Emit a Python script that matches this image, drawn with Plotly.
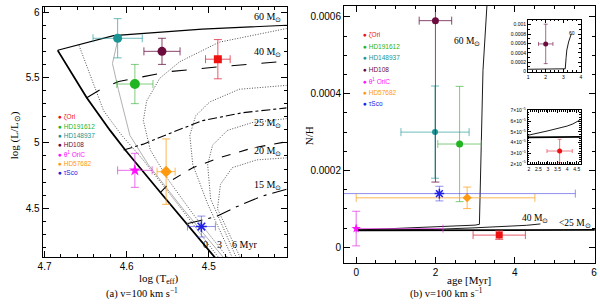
import plotly.graph_objects as go

W, H = 600, 304

# ---------------- stars ----------------
stars = ["ζOri", "HD191612", "HD148937", "HD108", "θ<sup>1</sup> OriC", "HD57682", "τSco"]
star_colors = ["#ee1111", "#22b522", "#1b9494", "#6b0b3e", "#ff10ff", "#ff9a10", "#2020e8"]
err_colors = ["rgba(225,50,70,0.8)", "rgba(60,175,60,0.65)", "rgba(30,150,150,0.65)",
              "rgba(110,25,75,0.8)", "rgba(225,60,225,0.75)", "rgba(255,160,30,0.75)",
              "rgba(70,70,230,0.6)"]
symbols = ["square", "circle", "circle", "circle", "star", "diamond", "asterisk-open"]

# panel (a): HRD
logT = [4.489, 4.590, 4.611, 4.557, 4.590, 4.552, 4.509]
logT_err = [0.015, 0.022, 0.030, 0.022, 0.021, 0.011, 0.017]
logL = [5.64, 5.45, 5.80, 5.70, 4.79, 4.78, 4.36]
logL_err = [0.15, 0.15, 0.15, 0.10, 0.13, 0.25, 0.08]

# panel (b): N/H vs age
age = [3.61, 2.61, 1.99, 2.00, 0.00, 2.80, 2.10]
age_err_plus = [0.66, 0.55, 0.86, 0.41, 2.19, 1.71, 3.43]
age_err_minus = [0.66, 0.55, 0.86, 0.41, 0.00, 2.80, 3.43]
nh = [3.2e-5, 2.69e-4, 3.0e-4, 5.9e-4, 4.9e-5, 1.29e-4, 1.40e-4]
nh_err = [1.1e-5, 1.5e-4, 1.2e-4, 4.2e-4, 4.5e-5, 2.8e-5, 1.9e-5]

# ---------------- tracks (panel a) ----------------
zams_T = [4.6840, 4.6486, 4.6202, 4.6017, 4.5556, 4.4930, 4.4882]
zams_L = [5.7076, 5.3448, 5.0952, 4.9453, 4.5952, 4.1282, 4.0907]

trk_masses = ["60", "40", "25", "20", "15"]
trk_T = [
    [4.684, 4.658, 4.616, 4.508, 4.405],
    [4.6486, 4.6318, 4.6097, 4.5475, 4.4874, 4.4051],
    [4.6037, 4.5797, 4.5484, 4.5075, 4.4593, 4.4052],
    [4.5588, 4.5436, 4.5195, 4.4874, 4.4471, 4.4052],
    [4.5255, 4.4915, 4.4674, 4.4351, 4.4052],
]
trk_L = [
    [5.708, 5.750, 5.820, 5.870, 5.900],
    [5.345, 5.408, 5.470, 5.545, 5.582, 5.625],
    [4.9453, 4.9903, 5.0705, 5.1702, 5.2301, 5.2676],
    [4.6207, 4.7197, 4.8103, 4.8853, 4.9603, 5.009],
    [4.3831, 4.4355, 4.5082, 4.5929, 4.6454],
]
trk_label_L = [5.957, 5.695, 5.150, 4.933, 4.675]

# isochrones (1..6 Myr)
iso_T = [
    [4.658, 4.642, 4.628, 4.606, 4.580, 4.538, 4.486],
    [4.6110, 4.6173, 4.6101, 4.6022, 4.5961, 4.5736, 4.5315, 4.4798],
    [4.4052, 4.4874, 4.5355, 4.5596, 4.5757, 4.5797, 4.5712, 4.5496, 4.5195, 4.4750],
    [4.4052, 4.4629, 4.4990, 4.5159, 4.5231, 4.5195, 4.5014, 4.4702],
    [4.4052, 4.4473, 4.4774, 4.4954, 4.5014, 4.4978, 4.4653],
    [4.4052, 4.4413, 4.4714, 4.4858, 4.4894, 4.4605],
]
iso_L = [
    [5.745, 5.470, 5.245, 5.058, 4.870, 4.533, 4.106],
    [5.7826, 5.6072, 5.4078, 5.2076, 5.0577, 4.8328, 4.4955, 4.1057],
    [5.8748, 5.7699, 5.6200, 5.4948, 5.3201, 5.1702, 4.9453, 4.7204, 4.4580, 4.1057],
    [5.4400, 5.4100, 5.3126, 5.2076, 5.0577, 4.8328, 4.5330, 4.1057],
    [5.1852, 5.1552, 5.0952, 4.9828, 4.8328, 4.5705, 4.1057],
    [4.8853, 4.8703, 4.8103, 4.6829, 4.4955, 4.1057],
]

# ---------------- tracks (panel b) ----------------
age60 = [0.0, 1.0, 2.0, 3.0, 3.11, 3.16, 3.20, 3.30, 3.45]
nh60 = [4.5e-5, 4.9e-5, 5.3e-5, 5.8e-5, 6.0e-5, 3.0e-4, 4.6e-4, 6.3e-4, 8.0e-4]
age40 = [0.0, 2.0, 3.0, 3.5, 4.0, 4.3, 4.65]
nh40 = [4.5e-5, 4.7e-5, 5.1e-5, 5.3e-5, 5.55e-5, 5.75e-5, 6.1e-5]
age25 = [0.0, 6.5]
nh25 = [4.45e-5, 4.55e-5]

fig = go.Figure()

# ----- panel a lines -----
for T, L in zip(iso_T, iso_L):
    fig.add_trace(go.Scatter(x=T, y=L, mode="lines", xaxis="x", yaxis="y",
                             line=dict(color="#222", width=0.8, dash="1px,1.6px"), showlegend=False))
# the 2 Myr isochrone is drawn as a grey solid line
fig.data[1].line.update(color="#b0b0b0", width=1.0, dash="solid")

trk_dash = ["solid", "longdash", "dashdot", "dash", "longdashdot"]
for T, L, d in zip(trk_T, trk_L, trk_dash):
    fig.add_trace(go.Scatter(x=T, y=L, mode="lines", xaxis="x", yaxis="y",
                             line=dict(color="black", width=1.1, dash=d), showlegend=False))
fig.add_trace(go.Scatter(x=zams_T, y=zams_L, mode="lines", xaxis="x", yaxis="y",
                         line=dict(color="black", width=1.8), showlegend=False))

sizes_a = [8, 10, 9, 9, 9, 9, 9]
sizes_b = [7, 7, 6, 7, 7, 7, 8]
for i in range(len(stars)):
    fig.add_trace(go.Scatter(
        x=[logT[i]], y=[logL[i]], mode="markers", xaxis="x", yaxis="y", showlegend=False,
        marker=dict(symbol=symbols[i], size=sizes_a[i], color=star_colors[i],
                    line=dict(color=star_colors[i], width=1.5 if symbols[i].endswith("open") else 0)),
        error_x=dict(type="data", array=[logT_err[i]], color=err_colors[i], thickness=1, width=4),
        error_y=dict(type="data", array=[logL_err[i]], color=err_colors[i], thickness=1, width=4)))

# ----- panel b lines -----
for xa, ya in (("x2", "y2"), ("x4", "y4")):
    fig.add_trace(go.Scatter(x=age25, y=nh25, mode="lines", xaxis=xa, yaxis=ya,
                             line=dict(color="black", width=1.8), showlegend=False))
    fig.add_trace(go.Scatter(x=age40, y=nh40, mode="lines", xaxis=xa, yaxis=ya,
                             line=dict(color="black", width=0.9), showlegend=False))
for xa, ya in (("x2", "y2"), ("x3", "y3")):
    fig.add_trace(go.Scatter(x=age60, y=nh60, mode="lines", xaxis=xa, yaxis=ya,
                             line=dict(color="black", width=0.9), showlegend=False))

for i in range(len(stars)):
    fig.add_trace(go.Scatter(
        x=[age[i]], y=[nh[i]], mode="markers", xaxis="x2", yaxis="y2", showlegend=False,
        marker=dict(symbol=symbols[i], size=sizes_b[i], color=star_colors[i],
                    line=dict(color=star_colors[i], width=1.5 if symbols[i].endswith("open") else 0)),
        error_x=dict(type="data", symmetric=False, array=[age_err_plus[i]],
                     arrayminus=[age_err_minus[i]], color=err_colors[i], thickness=1, width=4),
        error_y=dict(type="data", array=[nh_err[i]], color=err_colors[i], thickness=1, width=4)))

# insets: HD108 (top) and zeta Ori (bottom)
for i, xa, ya in ((3, "x3", "y3"), (0, "x4", "y4")):
    fig.add_trace(go.Scatter(
        x=[age[i]], y=[nh[i]], mode="markers", xaxis=xa, yaxis=ya, showlegend=False,
        marker=dict(symbol="circle", size=5, color=star_colors[i]),
        error_x=dict(type="data", array=[age_err_plus[i]], color=err_colors[i], thickness=0.8, width=2),
        error_y=dict(type="data", array=[nh_err[i]], color=err_colors[i], thickness=0.8, width=2)))


def axis(**kw):
    d = dict(showline=True, linecolor="black", linewidth=1, mirror="allticks",
             ticks="inside", ticklen=6, tickwidth=1, tickcolor="black",
             showgrid=False, zeroline=False,
             tickfont=dict(family="Liberation Sans", size=10, color="black"))
    d.update(kw)
    return d


def minor(dt, ln=3):
    return dict(ticks="inside", ticklen=ln, dtick=dt, tickcolor="black", tickwidth=1, showgrid=False)


small_font = dict(family="Liberation Sans", size=5, color="black")
inset_y3 = [0, 0.0002, 0.0004, 0.0006, 0.0008, 0.001]
inset_y4 = [2e-5, 3e-5, 4e-5, 5e-5, 6e-5, 7e-5]

fig.update_layout(
    width=W, height=H, margin=dict(l=0, r=0, t=0, b=0),
    paper_bgcolor="white", plot_bgcolor="rgba(0,0,0,0)",
    xaxis=axis(domain=[38 / W, 285 / W], range=[4.7024, 4.4052], anchor="y",
               tickvals=[4.7, 4.6, 4.5, 4.4], ticktext=["4.7", "4.6", "4.5", "4.4"],
               minor=minor(0.02)),
    yaxis=axis(domain=[1 - 259 / H, 1 - 4.5 / H], range=[4.128, 6.036], anchor="x",
               tickvals=[4.5, 5, 5.5, 6], ticktext=["4.5", "5", "5.5", "6"], minor=minor(0.1)),
    xaxis2=axis(domain=[343 / W, 596.7 / W], range=[-0.307, 6.02], anchor="y2",
                tickvals=[0, 2, 4, 6], minor=minor(0.5)),
    yaxis2=axis(domain=[1 - 265 / H, 1 - 3 / H], range=[-4.0e-5, 6.283e-4], anchor="x2",
                tickvals=[0, 2e-4, 4e-4, 6e-4], ticktext=["0", "0.0002", "0.0004", "0.0006"],
                minor=minor(5e-5)),
    xaxis3=axis(domain=[529.3 / W, 582.7 / W], range=[1, 4], anchor="y3", ticklen=3,
                tickvals=[1, 2, 3, 4], tickfont=small_font, minor=minor(0.25, 1.5)),
    yaxis3=axis(domain=[1 - 70 / H, 1 - 17.3 / H], range=[0, 0.0011], anchor="x3", ticklen=3,
                tickvals=inset_y3, ticktext=["0", "0.0002", "0.0004", "0.0006", "0.0008", "0.001"],
                tickfont=small_font, minor=minor(0.0001, 1.5)),
    xaxis4=axis(domain=[529 / W, 582.3 / W], range=[1.95, 4.7], anchor="y4", ticklen=3,
                tickvals=[2, 2.5, 3, 3.5, 4, 4.5], ticktext=["2", "2.5", "3", "3.5", "4", "4.5"],
                tickfont=small_font, minor=minor(0.1, 1.5)),
    yaxis4=axis(domain=[1 - 164 / H, 1 - 109.3 / H], range=[2.0e-5, 7.05e-5], anchor="x4", ticklen=3,
                tickvals=inset_y4, ticktext=[f"{k}×10<sup>−5</sup>" for k in range(2, 8)],
                tickfont=small_font, minor=minor(0.2e-5, 1.5)),
)

serif = "Liberation Serif"
ann = []
# track labels panel a
for m, yl in zip(trk_masses, trk_label_L):
    ann.append(dict(x=4.41, y=yl, xref="x", yref="y", xanchor="right", yanchor="middle",
                    text=f"{m} M<sub>⊙</sub>", showarrow=False,
                    font=dict(family=serif, size=10, color="black")))
# isochrone age labels
for t, tx, anc in (("0", 4.5042, "center"), ("3", 4.4866, "center"), ("6 Myr", 4.4740, "left")):
    ann.append(dict(x=tx, y=4.2204, xref="x", yref="y", xanchor=anc, yanchor="middle", text=t,
                    showarrow=False, font=dict(family=serif, size=10, color="black")))
# track labels panel b
for t, tx, ty, anc in (("60 M<sub>⊙</sub>", 3.18, 5.36e-4, "right"),
                        ("40 M<sub>⊙</sub>", 4.52, 7.47e-5, "center"),
                        ("&lt;25 M<sub>⊙</sub>", 5.97, 6.3e-5, "right")):
    ann.append(dict(x=tx, y=ty, xref="x2", yref="y2", xanchor=anc, yanchor="middle", text=t,
                    showarrow=False, font=dict(family=serif, size=9.5, color="black")))
ann.append(dict(x=3.51, y=0.00083, xref="x3", yref="y3", text="60", showarrow=False,
                font=dict(family="Liberation Sans", size=5, color="black")))

# legends (text in star colours)
for k, (nm, c) in enumerate(zip(stars, star_colors)):
    for x0, y0, dy in ((51.5, 116.3, 9.5), (360.5, 32.3, 11.7)):
        ann.append(dict(x=x0 / W, y=1 - (y0 + dy * k) / H, xref="paper", yref="paper",
                        xanchor="left", yanchor="middle", showarrow=False,
                        text=f"● {nm}", font=dict(family="Liberation Sans", size=6.5, color=c)))

# axis titles and captions
titles = [
    ("log (L/L<sub>⊙</sub>)", 10, 135, -90, 11),
    ("log (T<sub>eff</sub>)", 156, 282, 0, 11),
    ("(a) v=100 km s<sup>−1</sup>", 138.5, 295.5, 0, 10.5),
    ("N/H", 307.5, 135, -90, 11),
    ("age [Myr]", 469.5, 282.5, 0, 11),
    ("(b) v=100 km s<sup>−1</sup>", 446.7, 295.5, 0, 10.5),
]
for t, px, py, ang, fs in titles:
    ann.append(dict(x=px / W, y=1 - py / H, xref="paper", yref="paper", text=t, textangle=ang,
                    showarrow=False, xanchor="center", yanchor="middle",
                    font=dict(family=serif, size=fs, color="black")))

fig.update_layout(annotations=ann)
fig.write_html("out.html", config={"displayModeBar": False},
               post_script="document.body.style.margin='0';document.body.style.padding='0';")
